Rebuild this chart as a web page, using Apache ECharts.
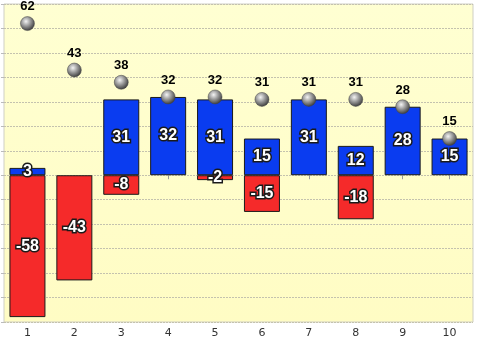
<!DOCTYPE html>
<html><head><meta charset="utf-8">
<script src="https://cdn.jsdelivr.net/npm/echarts@6/dist/echarts.min.js"></script>
<style>html,body{margin:0;padding:0;background:#fff}#c{width:480px;height:344px}</style>
</head><body><div id="c"></div>
<script>
var categories = ['1','2','3','4','5','6','7','8','9','10'];
var positiveValues = [3, 0, 31, 32, 31, 15, 31, 12, 28, 15];
var negativeValues = [-58, -43, -8, 0, -2, -15, 0, -18, 0, 0];
var pointValues = [62, 43, 38, 32, 32, 31, 31, 31, 28, 15];

var chart = echarts.init(document.getElementById('c'));
var barLabel = {
  show: true, position: 'inside', color: '#fff', fontWeight: 'bold',
  fontFamily: 'Arial, Liberation Sans, sans-serif', fontSize: 16,
  textBorderColor: '#1a1a1a', textBorderWidth: 3,
  formatter: function (p) { return p.value === 0 ? '' : String(p.value); }
};
function nz(arr) { return arr.map(function (v) { return v === 0 ? null : v; }); }
chart.setOption({
  animation: false,
  grid: {
    left: 4, right: 7, top: 4, bottom: 22, show: true,
    backgroundColor: new echarts.graphic.LinearGradient(0, 0, 0, 1, [
      {offset: 0, color: '#FFFFD2'}, {offset: 1, color: '#FFFCC4'}]),
    borderColor: '#cfcfc4', borderWidth: 1
  },
  xAxis: {
    type: 'category', data: categories,
    axisLine: {show: false},
    axisTick: {show: true, alignWithLabel: true, length: 4, lineStyle: {color: '#999'}},
    axisLabel: {color: '#333', fontSize: 11, fontFamily: 'DejaVu Sans', margin: 6},
    splitLine: {show: false}
  },
  yAxis: {
    type: 'value', min: -60, max: 70, interval: 10,
    axisLine: {show: false},
    axisTick: {show: true, inside: false, length: 3, lineStyle: {color: '#bbb'}},
    axisLabel: {show: false},
    splitLine: {show: true, lineStyle: {color: '#c4c2ae', type: [2, 1], width: 1}}
  },
  series: [
    {
      type: 'bar', stack: 'a', data: nz(positiveValues), barWidth: 36,
      itemStyle: {color: '#0A3CF0', borderColor: '#1a1a1a', borderWidth: 1},
      label: barLabel
    },
    {
      type: 'bar', stack: 'a', data: nz(negativeValues), barWidth: 36,
      itemStyle: {color: '#F52A2A', borderColor: '#1a1a1a', borderWidth: 1},
      label: barLabel
    },
    {
      type: 'scatter', data: pointValues, symbol: 'circle', symbolSize: 14, z: 5,
      itemStyle: {
        opacity: 1,
        color: new echarts.graphic.RadialGradient(0.4, 0.35, 0.7, [
          {offset: 0, color: '#f4f4f4'}, {offset: 0.45, color: '#9a9a9a'},
          {offset: 1, color: '#303030'}]),
        borderColor: '#444', borderWidth: 0.5
      },
      label: {
        show: true, position: 'top', distance: 3, color: '#000', fontWeight: 'bold',
        fontFamily: 'Arial, Liberation Sans, sans-serif', fontSize: 13
      }
    }
  ]
});
</script></body></html>
